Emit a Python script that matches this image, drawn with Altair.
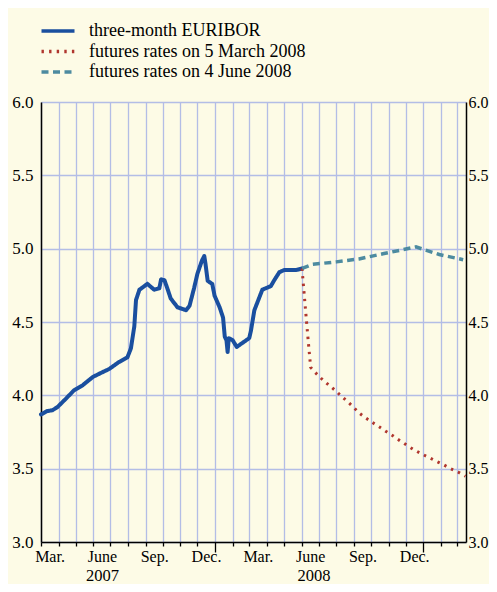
import altair as alt
import pandas as pd

# ---------------- data ----------------
euribor_dates = [
    "2007-03-01", "2007-03-04", "2007-03-12", "2007-03-21", "2007-03-30", "2007-04-14",
    "2007-04-28", "2007-05-13", "2007-05-31", "2007-06-14", "2007-06-29", "2007-07-16",
    "2007-07-31", "2007-08-06", "2007-08-12", "2007-08-15", "2007-08-21", "2007-08-28",
    "2007-09-04", "2007-09-10", "2007-09-16", "2007-09-25", "2007-09-28", "2007-10-04",
    "2007-10-09", "2007-10-15", "2007-10-27", "2007-11-11", "2007-11-17", "2007-11-25",
    "2007-12-01", "2007-12-09", "2007-12-13", "2007-12-15", "2007-12-19", "2007-12-27",
    "2007-12-31", "2008-01-09", "2008-01-15", "2008-01-18", "2008-01-21", "2008-01-23",
    "2008-01-25", "2008-02-01", "2008-02-08", "2008-02-19", "2008-03-01", "2008-03-04",
    "2008-03-10", "2008-03-17", "2008-03-24", "2008-04-08", "2008-04-14", "2008-04-23",
    "2008-05-02", "2008-05-23", "2008-06-02",
]
euribor_values = [
    3.870, 3.875, 3.893, 3.898, 3.920, 3.978,
    4.034, 4.068, 4.125, 4.152, 4.180, 4.227,
    4.260, 4.320, 4.470, 4.650, 4.720, 4.740,
    4.760, 4.740, 4.720, 4.730, 4.790, 4.785,
    4.730, 4.660, 4.600, 4.580, 4.610, 4.730,
    4.830, 4.920, 4.950, 4.900, 4.780, 4.760,
    4.680, 4.600, 4.530, 4.400, 4.375, 4.295,
    4.390, 4.375, 4.330, 4.360, 4.390, 4.440,
    4.580, 4.650, 4.720, 4.745, 4.785, 4.840,
    4.855, 4.855, 4.865,
]

march_dates = [
    "2008-06-02", "2008-06-03", "2008-06-08", "2008-06-13", "2008-06-17", "2008-06-27",
    "2008-07-07", "2008-07-18", "2008-07-30", "2008-08-09", "2008-08-20", "2008-08-31",
    "2008-09-10", "2008-09-21", "2008-10-03", "2008-10-16", "2008-10-27", "2008-11-09",
    "2008-11-21", "2008-12-03", "2008-12-15", "2008-12-28", "2009-01-10", "2009-01-23",
    "2009-02-05", "2009-02-18", "2009-03-03", "2009-03-16",
]
march_values = [
    4.865, 4.807, 4.580, 4.357, 4.190, 4.148,
    4.110, 4.073, 4.034, 3.998, 3.960, 3.920,
    3.880, 3.848, 3.816, 3.784, 3.755, 3.723,
    3.690, 3.660, 3.630, 3.603, 3.578, 3.552,
    3.528, 3.500, 3.477, 3.448,
]

june_dates = [
    "2008-06-02", "2008-06-20", "2008-08-01", "2008-09-10", "2008-10-22",
    "2008-12-19", "2009-01-29", "2009-03-12",
]
june_values = [4.865, 4.893, 4.910, 4.930, 4.965, 5.012, 4.960, 4.925]

series_names = [
    "three-month EURIBOR",
    "futures rates on 5 March 2008",
    "futures rates on 4 June 2008",
]
series_colors = ["#1a4f9f", "#b0362e", "#4d8ba0"]
series_dashes = [[1, 0], [2.4, 5.2], [7, 4.5]]

y_ticks = [3.0, 3.5, 4.0, 4.5, 5.0, 5.5, 6.0]
month_labels = {3: "Mar.", 6: "June", 9: "Sep.", 12: "Dec."}
month_label_dates = [
    "2007-03-16", "2007-06-16", "2007-09-16", "2007-12-16",
    "2008-03-16", "2008-06-16", "2008-09-16", "2008-12-16",
]
year_labels = ["2007", "2008"]
year_label_dates = ["2007-06-16", "2008-06-22"]
x_start = "2007-03-01"
x_end = "2009-03-17"

# ---------------- build table ----------------
frames = []
for name, dates, vals in [
    (series_names[0], euribor_dates, euribor_values),
    (series_names[1], march_dates, march_values),
    (series_names[2], june_dates, june_values),
]:
    frames.append(pd.DataFrame({"series": name, "date": pd.to_datetime(dates), "value": vals}))
df = pd.concat(frames, ignore_index=True)


def dt(s):
    y, m, d = (int(p) for p in s.split("-"))
    return alt.DateTime(year=y, month=m, date=d)


arr = [""] * 12
for m, lab in month_labels.items():
    arr[m - 1] = lab
month_expr = "[" + ",".join("'%s'" % a for a in arr) + "][month(datum.value)]"
year_expr = " : ".join(
    "year(datum.value) == %s ? '%s'" % (y, y) for y in year_labels
) + " : ''"

FONT = "Liberation Serif"
GRID = "#b3bde6"

x_scale = alt.Scale(domain=[dt(x_start), dt(x_end)])
y_scale = alt.Scale(domain=[3, 6], nice=False, zero=False)

legend = alt.Legend(
    title=None,
    orient="none",
    legendX=8,
    legendY=-80,
    symbolType="M-3,0L3,0",
    symbolSize=121,
    symbolStrokeWidth=3.5,
    labelFont=FONT,
    labelFontSize=18,
    labelColor="black",
    labelOffset=22,
    labelLimit=400,
    rowPadding=2.5,
    padding=0,
)
color = alt.Color(
    "series:N", scale=alt.Scale(domain=series_names, range=series_colors), legend=legend
)
dash = alt.StrokeDash(
    "series:N", scale=alt.Scale(domain=series_names, range=series_dashes), legend=legend
)

base = alt.Chart(df)

lay_a = base.transform_filter(alt.datum.series == series_names[0]).mark_line(
    strokeWidth=4, strokeCap="round", strokeJoin="round"
).encode(
    x=alt.X(
        "date:T",
        scale=x_scale,
        title=None,
        axis=alt.Axis(
            orient="bottom",
            tickCount=alt.TimeIntervalStep(interval="month", step=1),
            labels=False,
            grid=True,
            gridColor=GRID,
            gridWidth=1.3,
            domainColor="black",
            domainWidth=1.5,
            ticks=True,
            tickColor="black",
            tickWidth=1.3,
            tickSize={"condition": {"test": "month(datum.value) === 0", "value": 10}, "value": 4},
        ),
    ),
    y=alt.Y(
        "value:Q",
        scale=y_scale,
        title=None,
        axis=alt.Axis(
            orient="left",
            values=y_ticks,
            format=".1f",
            grid=True,
            gridColor=GRID,
            gridWidth=1.3,
            ticks=False,
            domainColor="black",
            domainWidth=1.5,
            labelPadding=8,
            labelFlush=False,
            labelFontSize=17,
        ),
    ),
    color=color,
    strokeDash=dash,
)

lay_b = base.transform_filter(alt.datum.series == series_names[1]).mark_line(
    strokeWidth=3
).encode(
    x=alt.X(
        "date:T",
        scale=x_scale,
        title=None,
        axis=alt.Axis(
            orient="bottom",
            values=[dt(s) for s in month_label_dates],
            labelExpr=month_expr,
            ticks=False,
            tickSize=0,
            domain=False,
            grid=False,
            labelPadding=19.5,
            labelFlush=False,
            labelBaseline="alphabetic",
            labelFontSize=16,
        ),
    ),
    y=alt.Y(
        "value:Q",
        scale=y_scale,
        title=None,
        axis=alt.Axis(
            orient="right",
            values=y_ticks,
            format=".1f",
            grid=False,
            ticks=False,
            domainColor="black",
            domainWidth=1.5,
            labelPadding=2,
            labelFlush=False,
            labelFontSize=16,
        ),
    ),
    color=color,
    strokeDash=dash,
)

lay_c = base.transform_filter(alt.datum.series == series_names[2]).mark_line(
    strokeWidth=3.5
).encode(
    x=alt.X(
        "date:T",
        scale=x_scale,
        title=None,
        axis=alt.Axis(
            orient="bottom",
            values=[dt(s) for s in year_label_dates],
            labelExpr=year_expr,
            ticks=False,
            tickSize=0,
            domain=False,
            grid=False,
            labelPadding=38,
            labelFlush=False,
            labelBaseline="alphabetic",
            labelFontSize=16.5,
        ),
    ),
    y=alt.Y("value:Q", scale=y_scale, axis=None),
    color=color,
    strokeDash=dash,
)

chart = (
    alt.layer(lay_a, lay_b, lay_c)
    .resolve_axis(x="independent", y="independent")
    .properties(
        width=425,
        height=440,
        padding={"left": 33, "top": 94, "right": 23, "bottom": 42},
        autosize=alt.AutoSizeParams(type="none"),
        background="#fdfbe6",
    )
    .configure_view(stroke=None)
    .configure_axis(labelFont=FONT, labelColor="black")
)

chart.save("out.html", embed_options={"renderer": "svg", "actions": False})
